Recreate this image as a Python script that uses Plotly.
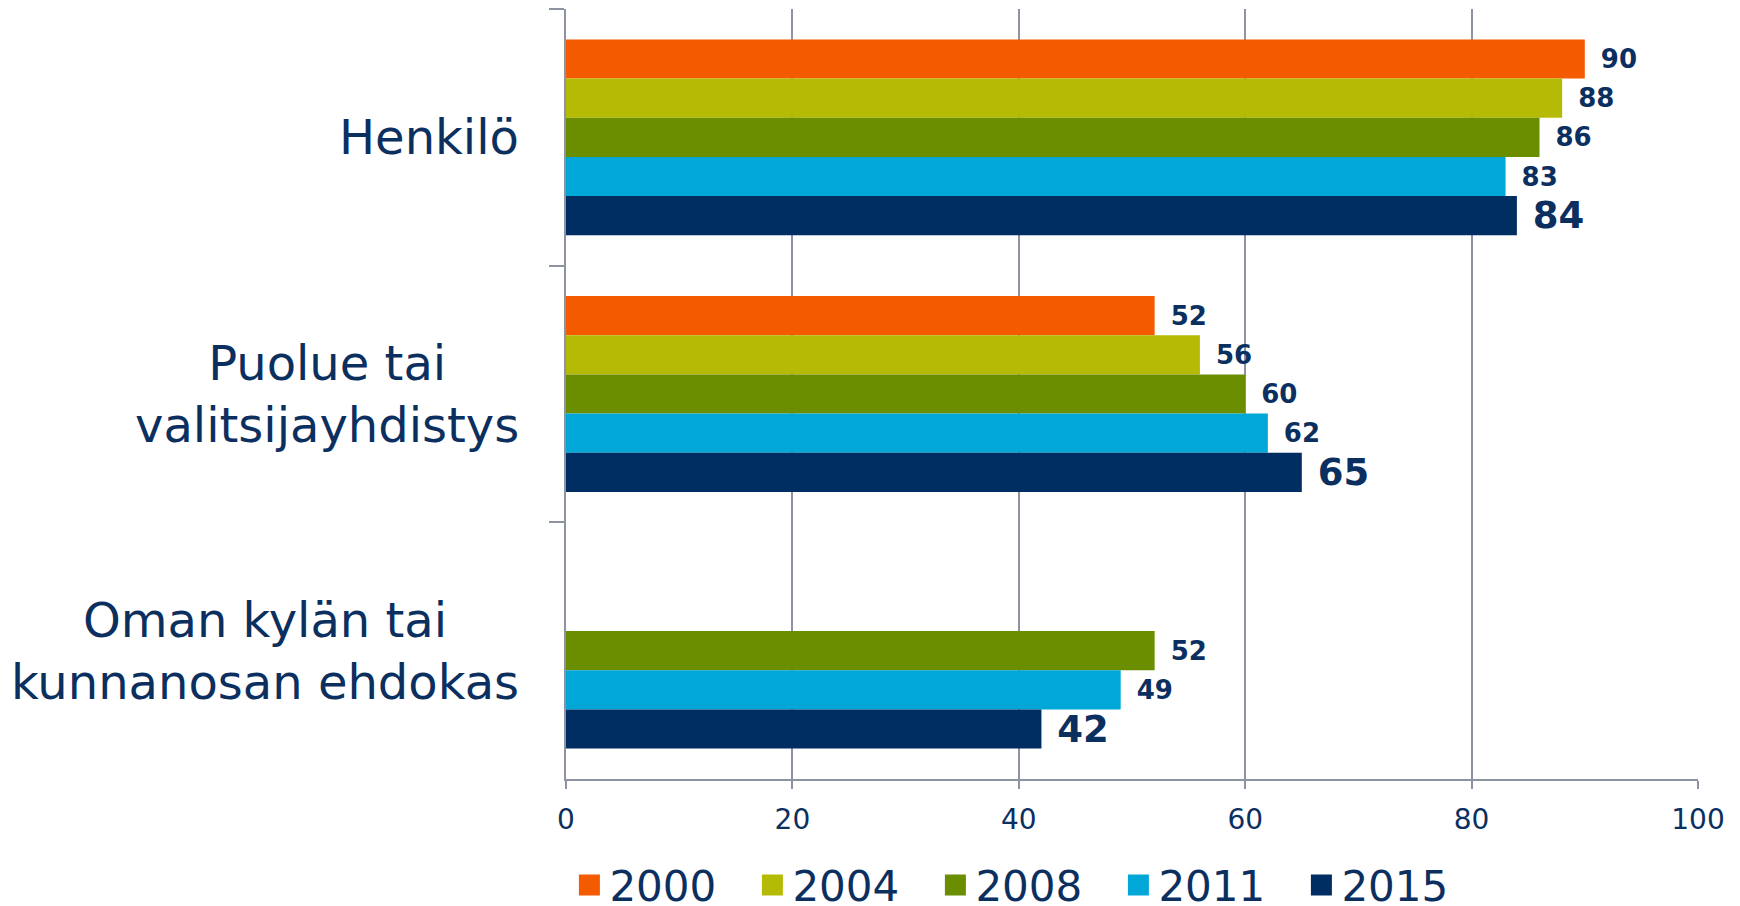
import plotly.graph_objects as go

# Data
categories = ["Henkilö", "Puolue tai<br>valitsijayhdistys", "Oman kylän tai<br>kunnanosan ehdokas"]
years = ["2000", "2004", "2008", "2011", "2015"]
values = {
    "2000": [90, 52, None],
    "2004": [88, 56, None],
    "2008": [86, 60, 52],
    "2011": [83, 62, 49],
    "2015": [84, 65, 42],
}
colors = ["#F45B00", "#B5BB05", "#6B8E00", "#00A7D7", "#002D62"]

navy = "#0B2F5F"
grid = "#8E93A4"
font_family = "DejaVu Sans"

fig = go.Figure()
for year, color in zip(years, colors):
    big = year == "2015"
    fig.add_trace(go.Bar(
        y=categories,
        x=values[year],
        name=year,
        legendgroup=year,
        showlegend=False,
        orientation="h",
        marker=dict(color=color, line=dict(width=0)),
        text=[(" " if big else "\u2002") + str(v) if v is not None else "" for v in values[year]],
        textposition="outside",
        constraintext="none",
        cliponaxis=False,
        textfont=dict(family=font_family, size=37 if big else 26, color=navy, weight="bold"),
    ))

# legend-only entries so the swatches come out bigger than the bar default
for year, color in zip(years, colors):
    fig.add_trace(go.Scatter(
        x=[None], y=[None], mode="markers", name=year, legendgroup=year,
        marker=dict(symbol="square", size=16, color=color, line=dict(color=color, width=5)),
    ))

# Category labels as centred annotations
for cat in categories:
    fig.add_annotation(
        x=0, xref="paper", y=cat, yref="y",
        xanchor="right", xshift=-45,
        text=cat, showarrow=False, align="center",
        font=dict(family=font_family, size=48, color=navy),
    )

# page body adds an 8px offset, so margins are shifted by that much
fig.update_layout(
    width=1740, height=906,
    margin=dict(l=558, r=50, t=1, b=135, autoexpand=False),
    paper_bgcolor="white",
    plot_bgcolor="white",
    barmode="group",
    bargap=0.237,
    bargroupgap=0,
    font=dict(family=font_family, color=navy),
    legend=dict(
        orientation="h",
        x=0.003, xanchor="left",
        y=-0.138, yanchor="middle",
        font=dict(family=font_family, size=42, color=navy),
        entrywidth=138,
        traceorder="normal",
    ),
    xaxis=dict(
        range=[0, 100], dtick=20,
        showgrid=True, gridcolor=grid, gridwidth=1.5,
        showline=True, linecolor=grid, linewidth=1.5,
        ticks="outside", ticklen=8, tickcolor=grid, tickwidth=1.5,
        zeroline=False, automargin=False,
        tickfont=dict(family=font_family, size=28, color=navy),
        ticklabelstandoff=7,
    ),
    yaxis=dict(
        autorange="reversed",
        showticklabels=False,
        showline=True, linecolor=grid, linewidth=1.5,
        ticks="outside", ticklen=15, tickcolor=grid, tickwidth=1.5,
        tickson="boundaries",
        showgrid=False, automargin=False,
    ),
)

fig.write_html("out.html")
